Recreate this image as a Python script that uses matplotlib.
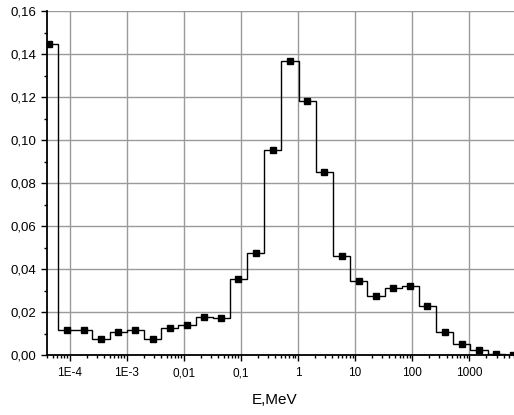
import numpy as np
import matplotlib
matplotlib.use("Agg")
import matplotlib.pyplot as plt
from matplotlib.ticker import FixedLocator, LogLocator, NullFormatter, MultipleLocator, FuncFormatter

plt.rcParams['font.family'] = ['Liberation Sans', 'DejaVu Sans']

# Bin centres (MeV) and fractions
energy = [4.42e-5, 8.84e-5, 1.77e-4, 3.54e-4, 7.07e-4, 1.41e-3, 2.83e-3,
          5.66e-3, 1.13e-2, 2.26e-2, 4.53e-2, 9.05e-2, 0.181, 0.362,
          0.724, 1.45, 2.90, 5.79, 11.6, 23.2, 46.3, 92.7, 185, 371,
          741, 1483, 2966, 5932]
fraction = [0.1448, 0.0118, 0.0119, 0.0074, 0.0110, 0.0116, 0.0077,
            0.0126, 0.0142, 0.0177, 0.0173, 0.0355, 0.0474, 0.0953,
            0.1367, 0.1183, 0.0853, 0.0462, 0.0344, 0.0276, 0.0312,
            0.0322, 0.0228, 0.0110, 0.0053, 0.0026, 0.0008, 0.0003]

xtick_vals = [1e-4, 1e-3, 1e-2, 1e-1, 1, 10, 100, 1000]
xtick_labels = ["1E-4", "1E-3", "0,01", "0,1", "1", "10", "100", "1000"]
ytick_vals = [0.00, 0.02, 0.04, 0.06, 0.08, 0.10, 0.12, 0.14, 0.16]

fig = plt.figure(figsize=(5.14, 4.15), dpi=100)
ax = fig.add_axes([47/514, 59.7/415, 467/514, 344.3/415])

c = np.array(energy)
inner = np.sqrt(c[:-1] * c[1:])
edges = np.concatenate([[c[0]**2 / inner[0]], inner, [c[-1]**2 / inner[-1]]])
ax.stairs(fraction, edges, baseline=None, color='black', lw=1.0, zorder=3)
ax.plot(energy, fraction, linestyle='none', marker='s', markersize=5,
        color='black', zorder=4, clip_on=True)

ax.set_xscale('log')
ax.set_xlim(4.0e-5, 6070)
ax.set_ylim(0, 0.16)

ax.xaxis.set_major_locator(FixedLocator(xtick_vals))
ax.set_xticklabels(xtick_labels)
ax.xaxis.set_minor_locator(LogLocator(base=10, subs=np.arange(2, 10), numticks=20))
ax.xaxis.set_minor_formatter(NullFormatter())

ax.yaxis.set_major_locator(FixedLocator(ytick_vals))
ax.yaxis.set_major_formatter(FuncFormatter(lambda v, p: f"{v:.2f}".replace('.', ',')))
ax.yaxis.set_minor_locator(MultipleLocator(0.01))

ax.grid(True, which='major', color='#9a9a9a', lw=1.0, zorder=0)
ax.set_axisbelow(True)

for s in ['top', 'right']:
    ax.spines[s].set_visible(False)
for s in ['left', 'bottom']:
    ax.spines[s].set_linewidth(1.3)
    ax.spines[s].set_color('black')

ax.tick_params(axis='both', which='major', direction='out', length=4.5, width=1.0,
               colors='black')
ax.tick_params(axis='both', which='minor', direction='out', length=2.5, width=1.0)
ax.tick_params(axis='x', which='major', pad=4, labelsize=8.5)
ax.tick_params(axis='y', which='major', pad=3, labelsize=9.5)

ax.set_xlabel("E,MeV", fontsize=11)
ax.xaxis.set_label_coords((275 - 47) / 467, -(399.7 - 355.3) / 344.3)
ax.xaxis.label.set_va('center')

fig.savefig("out.png", dpi=100)
